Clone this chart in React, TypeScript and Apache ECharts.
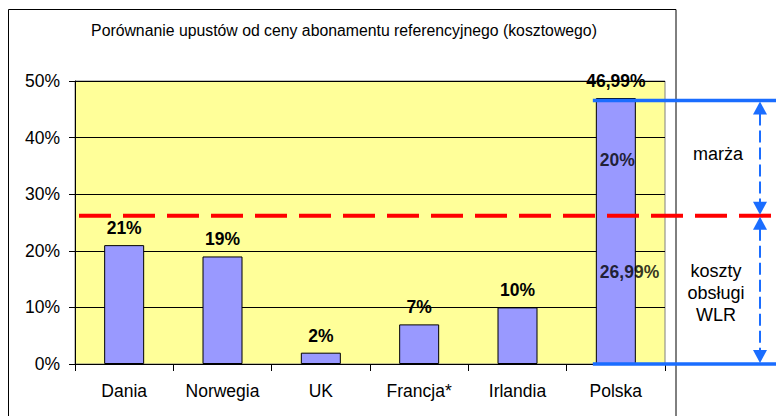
import React, { useEffect, useRef } from 'react';
import * as echarts from 'echarts';

const titleText = 'Porównanie upustów od ceny abonamentu referencyjnego (kosztowego)';
const categories = ['Dania', 'Norwegia', 'UK', 'Francja*', 'Irlandia', 'Polska'];
const discounts = [21, 19, 2, 7, 10, 46.99];
const discountLabels = ['21%', '19%', '2%', '7%', '10%', '46,99%'];
// labels drawn inside the Polska bar: [category, y position, text]
const polskaParts: [string, number, string][] = [
  ['Polska', 36.06, '20%'],
  ['Polska', 16.29, '26,99%'],
];
const costLevel = 26.2; // red dashed line (koszty obsługi WLR)
const marginText = 'marża';
const costText = 'koszty\nobsługi\nWLR';

const FONT = 'Liberation Sans, Arial, sans-serif';
const BLUE = '#1a6dff';

export default function App() {
  const ref = useRef<HTMLDivElement>(null);
  useEffect(() => {
    if (!ref.current) return;
    const chart = echarts.init(ref.current, undefined, { renderer: 'svg' });
    chart.setOption({
      animation: false,
      backgroundColor: '#ffffff',
      textStyle: { fontFamily: FONT },
      grid: {
        left: 75,
        right: 111,
        top: 81,
        bottom: 52,
        show: true,
        backgroundColor: '#FFFF99',
        borderColor: '#808080',
        borderWidth: 1,
      },
      xAxis: {
        type: 'category',
        data: categories,
        axisLine: { lineStyle: { color: '#000', width: 1 } },
        axisTick: { show: true, length: 7, lineStyle: { color: '#000' } },
        axisLabel: { color: '#000', fontSize: 17.5, margin: 18, fontFamily: FONT },
      },
      yAxis: {
        type: 'value',
        min: 0,
        max: 50,
        interval: 10,
        axisLine: { show: true, lineStyle: { color: '#000', width: 1 } },
        axisTick: { show: true, length: 6, lineStyle: { color: '#000' } },
        axisLabel: { color: '#000', fontSize: 17.5, margin: 15, formatter: '{value}%', fontFamily: FONT },
        splitLine: { show: true, lineStyle: { color: '#000', width: 1 } },
      },
      series: [
        {
          type: 'bar',
          data: discounts,
          barWidth: 40,
          itemStyle: { color: '#9999FF', borderColor: '#000', borderWidth: 1 },
          label: {
            show: true,
            position: 'top',
            distance: 8,
            color: '#000',
            fontWeight: 'bold',
            fontSize: 17.5,
            fontFamily: FONT,
            formatter: (p: any) => discountLabels[p.dataIndex],
          },
        },
        {
          type: 'scatter',
          data: polskaParts,
          symbolSize: 0,
          z: 5,
          label: {
            show: true,
            position: 'right',
            distance: 0,
            offset: [-16, 0],
            color: '#000',
            fontWeight: 'bold',
            fontSize: 17.5,
            fontFamily: FONT,
            formatter: (p: any) => p.value[2],
          },
        },
      ],
    });

    const yTop = chart.convertToPixel({ yAxisIndex: 0 }, discounts[5]) as number;
    const yRed = chart.convertToPixel({ yAxisIndex: 0 }, costLevel) as number;
    const yZero = chart.convertToPixel({ yAxisIndex: 0 }, 0) as number;
    const xPol = chart.convertToPixel({ xAxisIndex: 0 }, 'Polska') as number;

    const ax = 760;
    const aw = 7;
    const ah = 13;
    const arrow = (y1: number, y2: number) => [
      {
        type: 'polygon',
        shape: { points: [[ax, y1 + 1], [ax - aw, y1 + 1 + ah], [ax + aw, y1 + 1 + ah]] },
        style: { fill: BLUE },
        z: 20,
      },
      {
        type: 'polygon',
        shape: { points: [[ax, y2 - 1], [ax - aw, y2 - 1 - ah], [ax + aw, y2 - 1 - ah]] },
        style: { fill: BLUE },
        z: 20,
      },
      {
        type: 'line',
        shape: { x1: ax, y1: y1 + ah, x2: ax, y2: y2 - ah },
        style: { stroke: BLUE, lineWidth: 2, lineDash: [12, 5] },
        z: 20,
      },
    ];

    chart.setOption({
      graphic: [
        {
          type: 'rect',
          shape: { x: 8.5, y: 9.5, width: 667.5, height: 430 },
          style: { fill: 'none', stroke: '#000', lineWidth: 1 },
          z: 1,
        },
        {
          type: 'text',
          x: 344,
          y: 30,
          style: {
            text: titleText,
            font: `15.8px ${FONT}`,
            fill: '#000',
            textAlign: 'center',
            textVerticalAlign: 'middle',
          },
          z: 20,
        },
        {
          type: 'line',
          shape: { x1: 79, y1: yRed, x2: 771, y2: yRed },
          style: { stroke: '#FF0000', lineWidth: 4, lineDash: [32, 12] },
          z: 15,
        },
        {
          type: 'line',
          shape: { x1: xPol - 23, y1: yTop + 2.5, x2: 776, y2: yTop + 2.5 },
          style: { stroke: BLUE, lineWidth: 3.5 },
          z: 20,
        },
        {
          type: 'line',
          shape: { x1: xPol - 23, y1: yZero, x2: 776, y2: yZero },
          style: { stroke: BLUE, lineWidth: 3.5 },
          z: 20,
        },
        ...arrow(yTop + 2.5, yRed),
        ...arrow(yRed, yZero),
        {
          type: 'text',
          x: 718,
          y: (yTop + yRed) / 2 - 3,
          style: {
            text: marginText,
            font: `18px ${FONT}`,
            fill: '#000',
            textAlign: 'center',
            textVerticalAlign: 'middle',
          },
          z: 20,
        },
        {
          type: 'text',
          x: 716,
          y: (yRed + yZero) / 2 + 3,
          style: {
            text: costText,
            font: `18px ${FONT}`,
            lineHeight: 22,
            fill: '#000',
            textAlign: 'center',
            textVerticalAlign: 'middle',
          },
          z: 20,
        },
      ],
    });

    return () => chart.dispose();
  }, []);

  return (
    <div
      ref={ref}
      style={{ position: 'fixed', left: 0, top: 0, width: 776, height: 416, background: '#fff' }}
    />
  );
}
